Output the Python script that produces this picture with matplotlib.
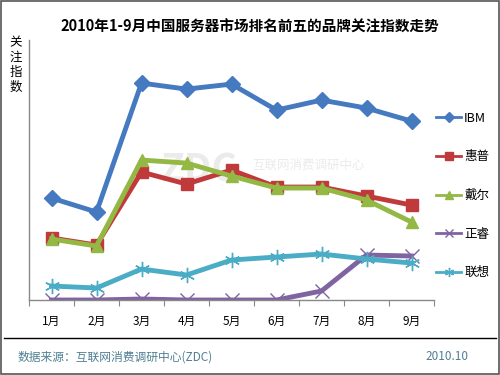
import matplotlib
matplotlib.use("Agg")
import matplotlib.pyplot as plt
from matplotlib.lines import Line2D
from matplotlib.patches import Rectangle

plt.rcParams["font.family"] = ["Noto Sans CJK SC", "DejaVu Sans"]

months = ["1月", "2月", "3月", "4月", "5月", "6月", "7月", "8月", "9月"]
brands = ["IBM", "惠普", "戴尔", "正睿", "联想"]
ibm = [102, 88, 217, 211, 216, 190, 200, 192, 179]
hp = [62, 55, 128, 116, 130, 113, 113, 104, 95]
dell = [61, 54, 140, 137, 124, 112, 112, 100, 78]
zhengrui = [0, 0, 1, 0, 0, 0, 9, 45, 44]
lenovo = [14, 12, 31, 25, 40, 43, 46, 41, 37]

series = [ibm, hp, dell, zhengrui, lenovo]
colors = ["#4579c0", "#c0393b", "#93b843", "#8064a2", "#4bacc6"]
markers = ["D", "s", "^", "x", (6, 2, 0)]
msizes = [8, 9, 9, 10, 11]

fig = plt.figure(figsize=(5, 3.75), dpi=100, facecolor="white")
ax = fig.add_axes([0.058, 0.2, 0.81, 0.693])

x = list(range(len(months)))
for vals, name, c, m, ms in zip(series, brands, colors, markers, msizes):
    ax.plot(x, vals, color=c, lw=3.5, marker=m, markersize=ms,
            markeredgewidth=1, markeredgecolor=c, label=name,
            solid_joinstyle="miter")

ax.set_xlim(-0.47, 8.49)
ax.set_ylim(0, 260)
ax.set_yticks([])
ax.set_xticks([i - 0.5 for i in range(10)], minor=False)
ax.set_xticklabels([])
ax.set_xticks(x, minor=True)
ax.set_xticklabels(months, minor=True, fontsize=8.5)
ax.tick_params(axis="x", which="major", length=4, color="#888888", direction="out")
ax.tick_params(axis="x", which="minor", length=0, pad=11)
for s in ["top", "right"]:
    ax.spines[s].set_visible(False)
for s in ["left", "bottom"]:
    ax.spines[s].set_color("#888888")
    ax.spines[s].set_linewidth(1)

# faint watermark
ax.text(0.42, 0.5, "ZDC", transform=ax.transAxes, fontsize=28, color="#ebebeb",
        ha="center", va="center", zorder=0, fontweight="bold")
ax.text(0.69, 0.52, "互联网消费调研中心", transform=ax.transAxes, fontsize=9,
        color="#ebebeb", ha="center", va="center", zorder=0)

leg = fig.legend(loc="upper left", bbox_to_anchor=(0.872, 0.702), frameon=False,
                 fontsize=9, handlelength=2.0, handletextpad=0.25,
                 labelspacing=2.05, markerscale=0.6, borderpad=0, borderaxespad=0)
for line in leg.get_lines():
    line.set_linewidth(2)

fig.text(0.5, 0.928, "2010年1-9月中国服务器市场排名前五的品牌关注指数走势",
         ha="center", va="center", fontsize=10.5, fontweight="bold")
fig.text(0.032, 0.826, "关\n注\n指\n数", ha="center", va="center",
         fontsize=9, linespacing=1.2)

fig.add_artist(Line2D([0.008, 0.992], [1 - 338 / 375] * 2, color="black", lw=1))
fig.text(0.036, 1 - 357 / 375, "数据来源：互联网消费调研中心(ZDC)", ha="left",
         va="center", fontsize=8.5, color="#4f7f92")
fig.text(0.937, 1 - 357 / 375, "2010.10", ha="right", va="center",
         fontsize=8.5, color="#4f7f92")
fig.add_artist(Rectangle((0.002, 0.003), 0.995, 0.994, transform=fig.transFigure,
                         fill=False, edgecolor="#555555", lw=1.2))

fig.savefig("out.png", dpi=100)
